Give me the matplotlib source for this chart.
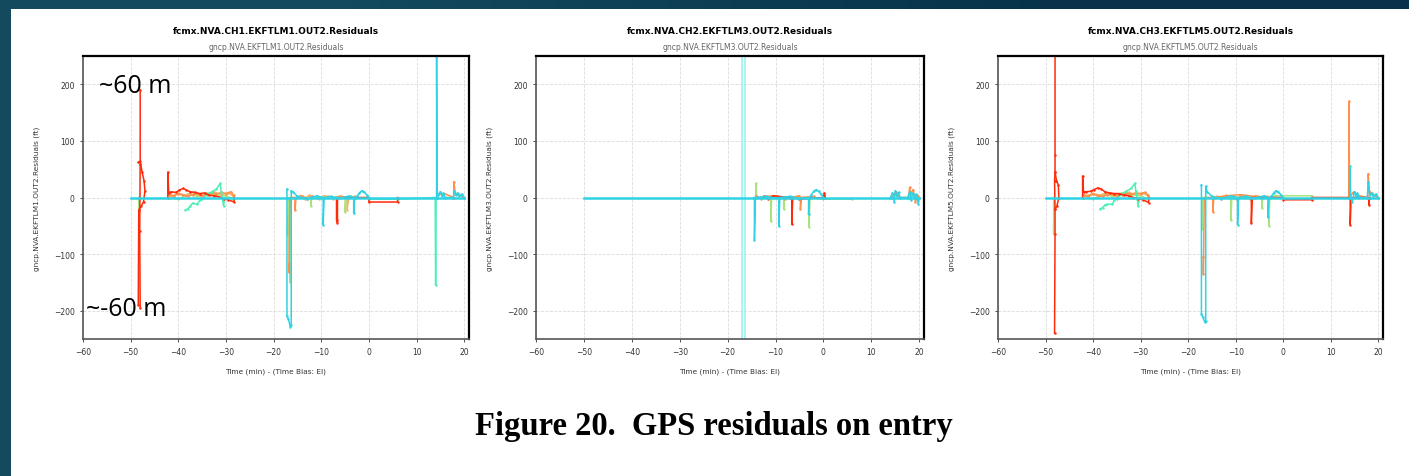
import matplotlib
matplotlib.use("Agg")
import matplotlib.pyplot as plt
import numpy as np

# цвета каналов
RED = '#ff2a0a'
ORANGE = '#ff8f4a'
TAN = '#f4b26a'
LGREEN = '#a8e47e'
AQUA = '#4cf0b4'
CYAN = '#2fd2e4'
PALE = '#8ff2ee'

titles = ['fcmx.NVA.CH1.EKFTLM1.OUT2.Residuals',
          'fcmx.NVA.CH2.EKFTLM3.OUT2.Residuals',
          'fcmx.NVA.CH3.EKFTLM5.OUT2.Residuals']
subtitles = ['gncp.NVA.EKFTLM1.OUT2.Residuals',
             'gncp.NVA.EKFTLM3.OUT2.Residuals',
             'gncp.NVA.EKFTLM5.OUT2.Residuals']
ylabels = ['gncp.NVA.EKFTLM1.OUT2.Residuals (ft)',
           'gncp.NVA.EKFTLM3.OUT2.Residuals (ft)',
           'gncp.NVA.EKFTLM5.OUT2.Residuals (ft)']
xlabel = 'Time (min) - (Time Bias: EI)'
xticks = [-60, -50, -40, -30, -20, -10, 0, 10, 20]
yticks = [-200, -100, 0, 100, 200]
caption = 'Figure 20.  GPS residuals on entry'

# общая нулевая линия (все каналы)
base_t = [-50, 20]
base_r = [0, 0]

# ---------- CH1 ----------
c1_red1_t = [-48.0, -48.0, -48.1, -48.0]
c1_red1_r = [190, 60, -60, -195]
c1_red2_t = [-48.4, -48.0, -47.6, -47.2, -47.0, -47.3, -47.8, -48.3, -48.4]
c1_red2_r = [62, 64, 45, 30, 12, -8, -15, -22, -190]
c1_red3_t = [-42.2, -42.2, -42.0, -41.5, -40.5, -39.8, -39.0, -38.3, -37.5, -36.5,
             -35.5, -34.5, -33.5, -32.5, -31.5, -30.5, -29.5, -28.3, -28.3]
c1_red3_r = [0, 45, 8, 10, 9, 13, 16, 13, 10, 9, 7, 8, 4, 3, 1, -2, -4, -8, 0]
c1_red4_t = [-6.8, -6.8, -6.6, -6.6, 0.0, 0.0, 6.0, 6.0]
c1_red4_r = [0, -40, -45, 0, 0, -8, -8, 0]
c1_org_t = [-42.0, -41.0, -40.0, -39.0, -38.0, -37.0, -36.0, -35.0, -34.0, -33.0,
            -32.0, -31.0, -30.0, -29.0, -28.4]
c1_org_r = [5, 3, 6, 4, 2, 5, 7, 3, 5, 8, 6, 9, 7, 10, 4]
c1_org2_t = [-16.8, -16.8, -16.6, -15.5, -15.5, -15.3, -14.0, -13.0, -12.0]
c1_org2_r = [-118, -132, 0, 0, -22, 0, 3, -2, 2]
c1_org3_t = [14.6, 15.0, 15.4, 15.8, 17.8, 17.8, 18.1, 18.5, 19.0, 19.5, 20.0]
c1_org3_r = [6, 9, 4, 7, 0, 28, 8, 6, 4, 3, 0]
c1_tan1_t = [-41.5, -40.0, -38.5, -37.0, -35.5, -34.0, -32.5, -31.0, -29.5, -28.5]
c1_tan1_r = [2, 8, 4, 9, 3, 6, 10, 5, 8, 3]
c1_tan2_t = [-14.5, -13.5, -12.5, -11.5, -10.5, -9.5, -8.5, -7.5, -6.0, -5.0, -4.6, -4.6, -4.2, -3.0]
c1_tan2_r = [3, -2, 4, 1, -3, 3, 2, -2, 3, 1, 0, -22, 0, 2]
c1_grn_t = [-48.3, -48.3, -48.2]
c1_grn_r = [0, -22, 0]
c1_grn1_t = [-42.0, -40.0, -38.0, -36.0, -34.0, -32.0, -30.0, -28.5]
c1_grn1_r = [4, -3, 6, 2, 8, 4, 3, -2]
c1_grn2_t = [-17.1, -17.1, -16.9, -16.6, -16.6, -16.4, -12.2, -12.2, -12.0, -5.0, -5.0, -4.8]
c1_grn2_r = [-55, -65, 0, -140, -150, 0, 0, -15, 0, 0, -25, 0]
c1_aq_t = [-38.5, -38.0, -37.5, -37.0, -36.0, -35.5, -35.0, -34.0, -33.0, -32.0,
           -31.2, -31.0, -30.5, -30.3]
c1_aq_r = [-22, -20, -15, -10, -12, -5, -3, 5, 10, 15, 25, 10, -15, 0]
c1_aq2_t = [0.0, 6.0, 13.9, 14.0, 14.1]
c1_aq2_r = [-3, -3, 0, -155, 0]
c1_cy_t = [-17.2, -17.2, -16.9, -16.5, -16.3, -16.3, -16.0, -15.0, -13.0, -11.0,
           -9.6, -9.6, -9.4, -8.0, -6.0, -4.0, -3.2, -3.2, -3.0, -2.5, -2.0,
           -1.5, -1.0, -0.5, 0.0]
c1_cy_r = [15, -210, -215, -228, -225, 12, 10, 2, -2, 3, 0, -48, 0, 2, -1, 3,
           0, -28, 0, 2, 8, 12, 10, 5, 0]
c1_cy2_t = [14.2, 14.2, 14.3, 14.5, 15.0, 15.3, 15.6, 16.0, 17.7, 17.9, 18.2,
            18.6, 19.0, 19.5, 20.0]
c1_cy2_r = [0, 260, 0, 5, 10, 3, 8, 0, 0, 12, 4, 8, 2, 6, 0]

# ---------- CH2 ----------
c2_pale1_t = [-17.0, -17.0]
c2_pale1_r = [-270, 270]
c2_pale2_t = [-16.3, -16.3]
c2_pale2_r = [-270, 270]
c2_grn_t = [-14.1, -14.1, -13.9, -11.0, -11.0, -10.8, -8.3, -8.3, -8.1, -3.0, -3.0, -2.8, 0.0, 6.0]
c2_grn_r = [0, 25, 0, 0, -42, 0, 0, -20, 0, 0, -52, 0, -3, -3]
c2_red_t = [-12.5, -11.5, -10.5, -7.0, -6.6, -6.6, -6.4, -5.0, 0.0, 0.2, 0.4]
c2_red_r = [2, -2, 3, 0, 0, -47, 0, -3, 0, 8, 0]
c2_org_t = [-14.0, -13.0, -12.0, -10.0, -8.0, -5.0, -4.8, -4.8, -4.6, -2.0]
c2_org_r = [3, -3, 2, 3, -2, 3, 0, -20, 0, 2]
c2_org2_t = [14.2, 14.8, 15.2, 15.6, 16.0, 17.8, 18.0, 18.3, 18.7, 19.0, 19.2, 19.6, 20.0]
c2_org2_r = [0, 6, 10, 4, 0, 0, 18, 6, 14, 3, -8, 4, 0]
c2_cy_t = [-14.5, -14.4, -14.4, -14.2, -12.0, -10.0, -9.3, -9.3, -9.1, -7.0, -5.0,
           -3.1, -3.1, -2.9, -2.5, -2.0, -1.5, -1.0, -0.5, 0.0]
c2_cy_r = [0, 0, -75, 0, 2, -1, 0, -50, 0, 2, -2, 0, -30, 0, 5, 11, 14, 11, 6, 0]
c2_cy2_t = [14.0, 14.4, 14.8, 15.0, 15.3, 15.7, 16.0, 17.6, 18.0, 18.3, 18.7,
            19.0, 19.4, 19.8, 20.0]
c2_cy2_r = [0, 8, -8, 12, 2, 9, 0, 0, 10, -4, 8, 2, 6, -12, 0]

# ---------- CH3 ----------
c3_red1_t = [-48.0, -48.0, -48.0, -48.1, -48.0, -48.0, -48.1]
c3_red1_r = [260, 75, 45, 30, -20, -65, -240]
c3_red2_t = [-48.0, -47.7, -47.3, -47.2, -47.6, -48.0]
c3_red2_r = [45, 30, 22, 0, -15, -20]
c3_red3_t = [-42.2, -42.2, -42.0, -41.5, -40.5, -39.8, -39.0, -38.3, -37.5, -36.5,
             -35.5, -34.5, -33.5, -32.5, -31.5, -30.5, -29.5, -28.3, -28.3]
c3_red3_r = [0, 38, 10, 10, 11, 14, 17, 15, 10, 8, 7, 7, 4, 3, 0, -2, -4, -9, 0]
c3_red4_t = [-6.7, -6.7, -6.5, 0.0, 0.0, 6.0, 6.0, 13.9, 14.1, 14.1, 14.3, 17.8, 18.0, 18.0, 18.2]
c3_red4_r = [0, -45, 0, 0, -4, -4, 0, 0, 0, -48, 0, 0, 0, -13, 0]
c3_org_t = [-42.0, -41.0, -40.0, -39.0, -38.0, -37.0, -36.0, -35.0, -34.0, -33.0,
            -32.0, -31.0, -30.0, -29.0, -28.4]
c3_org_r = [4, 2, 6, 3, 2, 5, 6, 3, 5, 7, 6, 8, 7, 9, 4]
c3_org2_t = [-16.8, -16.8, -16.6, -14.8, -14.8, -14.6, -12.0, -9.0, -6.0]
c3_org2_r = [-105, -135, 0, 0, -25, 0, 3, 5, 2]
c3_org3_t = [13.8, 13.8, 14.0, 14.6, 15.0, 15.5, 17.8, 17.9, 18.1, 18.5, 19.0, 19.5, 20.0]
c3_org3_r = [0, 170, 0, 8, 10, 4, 0, 42, 12, 8, 5, 3, 0]
c3_tan1_t = [-41.5, -40.0, -38.5, -37.0, -35.5, -34.0, -32.5, -31.0, -29.5, -28.5]
c3_tan1_r = [3, 7, 4, 8, 3, 6, 9, 5, 8, 3]
c3_tan2_t = [-14.0, -13.0, -12.0, -11.0, -10.0, -9.0, -8.0, -7.0, -5.5, -4.5, -3.5]
c3_tan2_r = [2, -2, 4, 1, -3, 3, 2, -2, 3, 1, 2]
c3_grn_t = [-48.3, -48.3, -48.2]
c3_grn_r = [0, -65, 0]
c3_grn1_t = [-42.0, -40.0, -38.0, -36.0, -34.0, -32.0, -30.0, -28.5]
c3_grn1_r = [5, -3, 6, 2, 8, 5, 3, -2]
c3_grn2_t = [-17.1, -17.1, -16.9, -11.0, -11.0, -10.8, -4.5, -4.5, -4.3, -3.0, -3.0,
             -2.8, -2.0, 6.0]
c3_grn2_r = [-45, -55, 0, 0, -40, 0, 0, -18, 0, 0, -50, 0, 3, 3]
c3_aq_t = [-38.5, -38.0, -37.5, -37.0, -36.0, -35.5, -35.0, -34.0, -33.0, -32.0,
           -31.2, -31.0, -30.5, -30.3]
c3_aq_r = [-20, -18, -13, -12, -12, -5, -2, 6, 11, 16, 25, 12, -15, 0]
c3_cy_t = [-17.2, -17.2, -16.9, -16.5, -16.3, -16.3, -16.0, -15.0, -13.0, -11.0,
           -9.6, -9.6, -9.4, -8.0, -6.0, -4.0, -3.2, -3.2, -3.0, -2.5, -2.0,
           -1.5, -1.0, -0.5, 0.0]
c3_cy_r = [22, -205, -212, -220, -218, 20, 10, 2, -2, 3, 0, -48, 0, 2, -1, 3,
           0, -35, 0, 2, 8, 12, 10, 5, 0]
c3_cy2_t = [14.0, 14.0, 14.2, 14.5, 15.0, 15.3, 15.6, 16.0, 17.7, 17.9, 18.2,
            18.6, 19.0, 19.5, 20.0]
c3_cy2_r = [0, 55, 0, -8, 10, 3, 8, 0, 0, 28, 4, 8, 2, 6, 0]

traces = [
    [(c1_grn_t, c1_grn_r, LGREEN), (c1_grn1_t, c1_grn1_r, LGREEN),
     (c1_tan1_t, c1_tan1_r, TAN), (c1_tan2_t, c1_tan2_r, TAN),
     (c1_org_t, c1_org_r, ORANGE), (c1_grn2_t, c1_grn2_r, LGREEN),
     (c1_org2_t, c1_org2_r, ORANGE), (c1_org3_t, c1_org3_r, ORANGE),
     (c1_aq_t, c1_aq_r, AQUA), (c1_aq2_t, c1_aq2_r, AQUA),
     (c1_red1_t, c1_red1_r, RED), (c1_red2_t, c1_red2_r, RED), (c1_red3_t, c1_red3_r, RED),
     (c1_red4_t, c1_red4_r, RED), (c1_cy_t, c1_cy_r, CYAN), (c1_cy2_t, c1_cy2_r, CYAN)],
    [(c2_pale1_t, c2_pale1_r, PALE), (c2_pale2_t, c2_pale2_r, PALE),
     (c2_grn_t, c2_grn_r, LGREEN), (c2_org_t, c2_org_r, ORANGE), (c2_org2_t, c2_org2_r, ORANGE),
     (c2_red_t, c2_red_r, RED), (c2_cy_t, c2_cy_r, CYAN), (c2_cy2_t, c2_cy2_r, CYAN)],
    [(c3_grn_t, c3_grn_r, LGREEN), (c3_grn1_t, c3_grn1_r, LGREEN),
     (c3_tan1_t, c3_tan1_r, TAN), (c3_tan2_t, c3_tan2_r, TAN),
     (c3_org_t, c3_org_r, ORANGE), (c3_grn2_t, c3_grn2_r, LGREEN),
     (c3_org2_t, c3_org2_r, ORANGE), (c3_org3_t, c3_org3_r, ORANGE),
     (c3_aq_t, c3_aq_r, AQUA),
     (c3_red1_t, c3_red1_r, RED), (c3_red2_t, c3_red2_r, RED), (c3_red3_t, c3_red3_r, RED),
     (c3_red4_t, c3_red4_r, RED), (c3_cy_t, c3_cy_r, CYAN), (c3_cy2_t, c3_cy2_r, CYAN)],
]

fig = plt.figure(figsize=(14.09, 4.77), dpi=100)
fig.patch.set_facecolor('white')

# тёмная рамка слайда (верх и лево)
top = fig.add_axes([0, 1 - 10 / 477, 1, 10 / 477])
top.imshow(np.array([[[19, 74, 94], [7, 50, 74]]], dtype=np.uint8), aspect='auto',
           interpolation='bilinear', extent=[0, 1, 0, 1])
top.axis('off')
left = fig.add_axes([0, 0, 11 / 1409, 1])
left.set_facecolor('#134a5e')
left.set_xticks([])
left.set_yticks([])
for s in left.spines.values():
    s.set_visible(False)

lefts = [83, 536, 998]
widths = [386, 388, 385]
for i in range(3):
    ax = fig.add_axes([lefts[i] / 1409, 1 - 340 / 477, widths[i] / 1409, 283 / 477])
    ax.grid(True, ls='--', lw=0.6, color='#dcdcdc')
    ax.set_axisbelow(True)
    for t, r, c in traces[i]:
        ax.plot(t, r, color=c, lw=1.1, marker='.', ms=1.5)
    ax.plot(base_t, base_r, color=CYAN, lw=1.8)
    ax.set_xlim(-60, 21)
    ax.set_ylim(-250, 250)
    ax.set_xticks(xticks)
    ax.set_yticks(yticks)
    ax.tick_params(labelsize=5.5, length=2.5, width=0.6, colors='#333333')
    for side in ['left', 'bottom']:
        ax.spines[side].set_color('#555555')
        ax.spines[side].set_linewidth(1.2)
    for side in ['top', 'right']:
        ax.spines[side].set_color('black')
        ax.spines[side].set_linewidth(1.6)
    ax.set_xlabel(xlabel, fontsize=5.3, color='#333333', labelpad=8)
    ax.set_ylabel(ylabels[i], fontsize=5.3, color='#333333', labelpad=10)
    ax.text(0.5, 1 + 26 / 283, titles[i], transform=ax.transAxes, ha='center', va='center',
            fontsize=6.5, fontweight='bold')
    ax.text(0.5, 1 + 10 / 283, subtitles[i], transform=ax.transAxes, ha='center', va='center',
            fontsize=5.5, color='#666666')
    if i == 0:
        ax.text(-56.7, 198, '~60 m', fontsize=18, family='Open Sans', va='center')
        ax.text(-59.3, -196, '~-60 m', fontsize=18, family='Open Sans', va='center')

fig.text(714 / 1409, 1 - 427 / 477, caption, ha='center', va='center',
         family='Liberation Serif', fontweight='bold', fontsize=23.5)

plt.savefig('out.png', dpi=100)
